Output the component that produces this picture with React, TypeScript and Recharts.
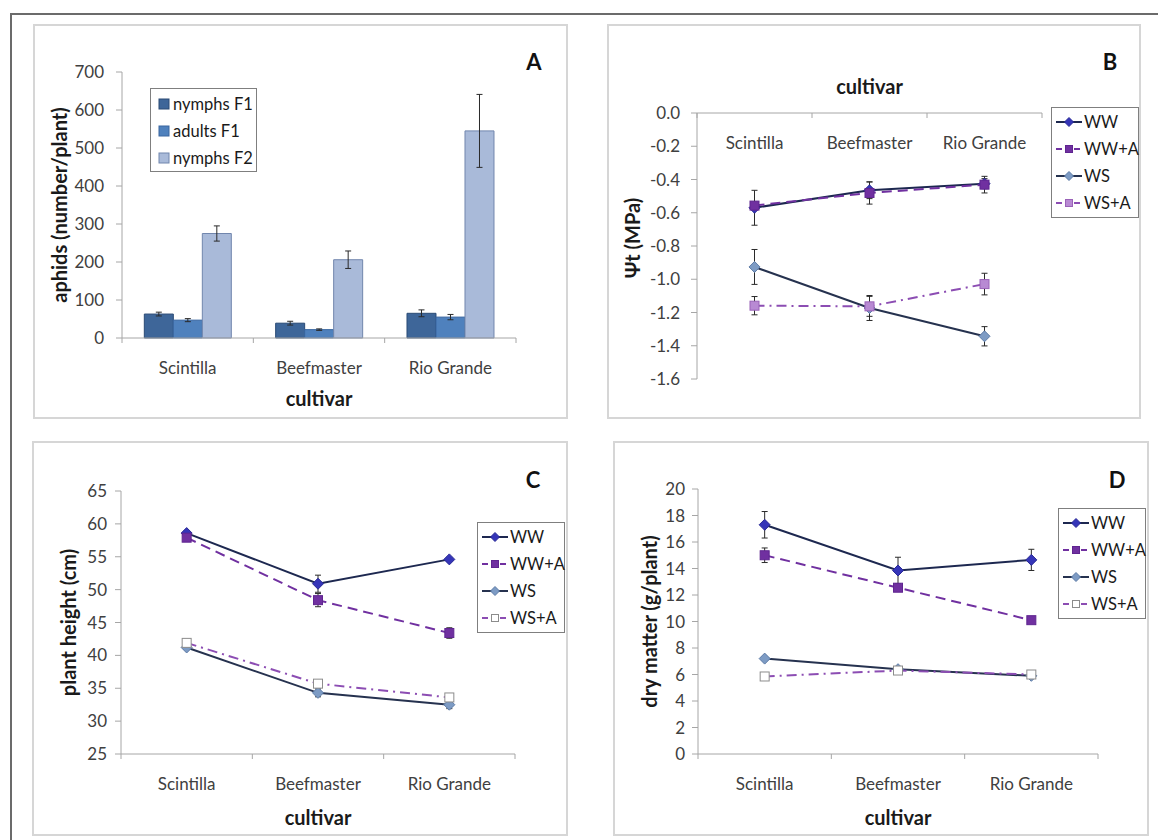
import React from 'react';
import { BarChart, Bar, LineChart, Line, XAxis, YAxis, ErrorBar, Legend } from 'recharts';

const FONT = 'Lato, "Open Sans", "DejaVu Sans", sans-serif';
const AXIS = '#a6a6a6';
const TICK_TXT = '#404040';
const TITLE_TXT = '#1a1a1a';
const TICK_FS = 17;

// ---------- data ----------
const cultivars = ['Scintilla', 'Beefmaster', 'Rio Grande'];

// Panel A: aphids (number/plant)
const nymphsF1 = [63, 39, 65];
const nymphsF1Err = [5, 5, 9];
const adultsF1 = [47, 22, 55];
const adultsF1Err = [4, 2, 7];
const nymphsF2 = [275, 206, 545];
const nymphsF2Err = [20, 23, 96];
const aphidTicks = [0, 100, 200, 300, 400, 500, 600, 700];

// Panel B: Ψt (MPa)
const psiWW = [-0.57, -0.465, -0.425];
const psiWWErr = [0.105, 0.05, 0.03];
const psiWWA = [-0.557, -0.481, -0.431];
const psiWWAErr = [0.02, 0.067, 0.05];
const psiWS = [-0.926, -1.173, -1.343];
const psiWSErr = [0.105, 0.075, 0.058];
const psiWSA = [-1.159, -1.163, -1.029];
const psiWSAErr = [0.055, 0.06, 0.065];
const psiTicks = [0, -0.2, -0.4, -0.6, -0.8, -1.0, -1.2, -1.4, -1.6];

// Panel C: plant height (cm)
const htWW = [58.6, 50.9, 54.6];
const htWWErr = [0.3, 1.3, 0.3];
const htWWA = [57.9, 48.4, 43.4];
const htWWAErr = [0.5, 1.0, 0.8];
const htWS = [41.2, 34.3, 32.5];
const htWSErr = [0.3, 0.6, 0.6];
const htWSA = [41.9, 35.7, 33.6];
const htWSAErr = [0.2, 0.3, 0.3];
const htTicks = [25, 30, 35, 40, 45, 50, 55, 60, 65];

// Panel D: dry matter (g/plant)
const dmWW = [17.3, 13.85, 14.65];
const dmWWErr = [1.0, 1.0, 0.8];
const dmWWA = [15.0, 12.55, 10.1];
const dmWWAErr = [0.55, 0.25, 0.1];
const dmWS = [7.2, 6.4, 5.9];
const dmWSErr = [0.1, 0.15, 0.1];
const dmWSA = [5.85, 6.3, 6.0];
const dmWSAErr = [0.1, 0.1, 0.1];
const dmTicks = [0, 2, 4, 6, 8, 10, 12, 14, 16, 18, 20];

const barData = cultivars.map((c, i) => ({
  cultivar: c,
  nF1: nymphsF1[i], nF1e: nymphsF1Err[i],
  aF1: adultsF1[i], aF1e: adultsF1Err[i],
  nF2: nymphsF2[i], nF2e: nymphsF2Err[i],
}));

const makeLineData = (ww: number[], wwe: number[], wwa: number[], wwae: number[], ws: number[], wse: number[], wsa: number[], wsae: number[]) =>
  cultivars.map((c, i) => ({
    cultivar: c,
    WW: ww[i], WWe: wwe[i],
    WWA: wwa[i], WWAe: wwae[i],
    WS: ws[i], WSe: wse[i],
    WSA: wsa[i], WSAe: wsae[i],
  }));

const psiData = makeLineData(psiWW, psiWWErr, psiWWA, psiWWAErr, psiWS, psiWSErr, psiWSA, psiWSAErr);
const htData = makeLineData(htWW, htWWErr, htWWA, htWWAErr, htWS, htWSErr, htWSA, htWSAErr);
const dmData = makeLineData(dmWW, dmWWErr, dmWWA, dmWWAErr, dmWS, dmWSErr, dmWSA, dmWSAErr);

// ---------- styles ----------
type Mk = { shape: 'diamond' | 'square'; fill: string; stroke: string; size: number };
type SeriesStyle = { key: string; name: string; line: string; dash?: string; marker: Mk };

const barSeries = [
  { key: 'nF1', name: 'nymphs F1', fill: '#3e6699', stroke: '#2a4a75' },
  { key: 'aF1', name: 'adults F1', fill: '#4f81bd', stroke: '#3a66a0' },
  { key: 'nF2', name: 'nymphs F2', fill: '#a9bad9', stroke: '#7186ad' },
];

const makeLineSeries = (wsaFill: string, wsaStroke: string): SeriesStyle[] => [
  { key: 'WW', name: 'WW', line: '#1d2850', marker: { shape: 'diamond', fill: '#3535b8', stroke: '#2a2a96', size: 5.5 } },
  { key: 'WWA', name: 'WW+A', line: '#7030a0', dash: '10 6', marker: { shape: 'square', fill: '#7030a0', stroke: '#5f2590', size: 4.5 } },
  { key: 'WS', name: 'WS', line: '#26324f', marker: { shape: 'diamond', fill: '#7d9bc4', stroke: '#5d7ba6', size: 5.5 } },
  { key: 'WSA', name: 'WS+A', line: '#8c4db3', dash: '10 5 2 5', marker: { shape: 'square', fill: wsaFill, stroke: wsaStroke, size: 4.5 } },
];

const seriesB = makeLineSeries('#b88ad3', '#9a62b8');
const seriesCD = makeLineSeries('#ffffff', '#8c8c8c');

// ---------- helpers ----------
const markerEl = (m: Mk, cx: number, cy: number, key?: string) =>
  m.shape === 'diamond' ? (
    <path key={key} d={`M${cx},${cy - m.size} L${cx + m.size},${cy} L${cx},${cy + m.size} L${cx - m.size},${cy} Z`} fill={m.fill} stroke={m.stroke} strokeWidth={1} />
  ) : (
    <rect key={key} x={cx - m.size} y={cy - m.size} width={m.size * 2} height={m.size * 2} fill={m.fill} stroke={m.stroke} strokeWidth={1} />
  );

const renderMarker = (m: Mk, k: string) => (p: any) => {
  const { cx, cy, index } = p;
  if (cx == null || cy == null) return <g key={`${k}-${index}`} />;
  return markerEl(m, cx, cy, `${k}-${index}`);
};

const makeCategoryTick = (half: number, labelDy: number) => (p: any) => {
  const { x, y, payload, index } = p;
  const last = index === cultivars.length - 1;
  return (
    <g key={`t-${index}`}>
      <line x1={x - half} x2={x - half} y1={y} y2={y + 5} stroke={AXIS} strokeWidth={1} />
      {last && <line x1={x + half} x2={x + half} y1={y} y2={y + 5} stroke={AXIS} strokeWidth={1} />}
      <text x={x} y={y + labelDy} textAnchor="middle" dominantBaseline="central" fill={TICK_TXT} fontSize={TICK_FS} fontFamily={FONT}>
        {payload.value}
      </text>
    </g>
  );
};

const yTitle = (text: string, dx: number, dy = 0) => ({
  content: (p: any) => {
    const vb = p.viewBox || {};
    const cx = vb.x + dx;
    const cy = vb.y + vb.height / 2 + dy;
    return (
      <text x={cx} y={cy} transform={`rotate(-90, ${cx}, ${cy})`} textAnchor="middle" dominantBaseline="central" fontSize={20} fontWeight={700} fill={TITLE_TXT} fontFamily={FONT}>
        {text}
      </text>
    );
  },
});

const xTitle = (text: string, dy: number) => ({
  content: (p: any) => {
    const vb = p.viewBox || {};
    return (
      <text x={vb.x + vb.width / 2} y={vb.y + dy} textAnchor="middle" dominantBaseline="central" fontSize={20} fontWeight={700} fill={TITLE_TXT} fontFamily={FONT}>
        {text}
      </text>
    );
  },
});

const BarLegendBox = () => (
  <div style={{ width: 107, height: 84, border: '1.5px solid #7f7f7f', boxSizing: 'border-box', background: '#fff', paddingTop: 1, fontFamily: FONT }}>
    {barSeries.map((s) => (
      <div key={s.key} style={{ display: 'flex', alignItems: 'center', height: 27.3 }}>
        <svg width={22} height={12} style={{ flex: 'none' }}>
          <rect x={8} y={1} width={10} height={10} fill={s.fill} stroke={s.stroke} strokeWidth={1} />
        </svg>
        <span style={{ fontSize: 16.5, color: TITLE_TXT, whiteSpace: 'nowrap', lineHeight: '16px' }}>{s.name}</span>
      </div>
    ))}
  </div>
);

const LineLegendBox = ({ series }: { series: SeriesStyle[] }) => (
  <div style={{ width: 88, height: 111, border: '1.5px solid #7f7f7f', boxSizing: 'border-box', background: '#fff', fontFamily: FONT }}>
    {series.map((s) => (
      <div key={s.key} style={{ display: 'flex', alignItems: 'center', height: 27 }}>
        <svg width={32} height={14} style={{ flex: 'none' }}>
          <line x1={4} y1={7} x2={30} y2={7} stroke={s.line} strokeWidth={2} strokeDasharray={s.dash ? '6 3' : undefined} />
          {markerEl({ ...s.marker, size: s.marker.size - 1 }, 17, 7)}
        </svg>
        <span style={{ fontSize: 16.5, color: TITLE_TXT, whiteSpace: 'nowrap', lineHeight: '16px' }}>{s.name}</span>
      </div>
    ))}
  </div>
);

const Panel = ({ left, top, width, height, letter, letterX, letterY, children }: any) => (
  <>
    <div style={{ position: 'absolute', left, top, width, height, border: '2px solid #d6d6d6', boxSizing: 'border-box' }} />
    <div style={{ position: 'absolute', left, top, width, height }}>{children}</div>
    <div style={{ position: 'absolute', left: letterX - 15, top: letterY - 14, width: 30, height: 28, lineHeight: '28px', textAlign: 'center', fontSize: 22, fontWeight: 700, fontFamily: FONT, color: '#111' }}>
      {letter}
    </div>
  </>
);

const lineSeriesEls = (series: SeriesStyle[]) =>
  series.map((s) => (
    <Line
      key={s.key}
      dataKey={s.key}
      name={s.name}
      stroke={s.line}
      strokeWidth={2}
      strokeDasharray={s.dash}
      dot={renderMarker(s.marker, s.key)}
      activeDot={false}
      isAnimationActive={false}
    >
      <ErrorBar dataKey={`${s.key}e`} width={3} stroke="#2a2a2a" strokeWidth={1} direction="y" />
    </Line>
  ));

export default function App() {
  // Panel A geometry
  const aW = 535, aH = 395, aM = { top: 48, right: 52, left: 0, bottom: 0 }, aY = 89, aX = 81;
  const aHalf = (aW - aM.right - aY) / 6;
  // Panel B geometry
  const bW = 534, bH = 395, bM = { top: 0, right: 99, left: 0, bottom: 40 }, bY = 90, bX = 89;
  const bHalf = (bW - bM.right - bY) / 6;
  // Panel C geometry
  const cW = 536, cH = 395, cM = { top: 50, right: 53, left: 0, bottom: 0 }, cY = 89, cX = 82;
  const cHalf = (cW - cM.right - cY) / 6;
  // Panel D geometry
  const dW = 536, dH = 395, dM = { top: 48, right: 51, left: 0, bottom: 0 }, dY = 85, dX = 82;
  const dHalf = (dW - dM.right - dY) / 6;

  const yTick = { fill: TICK_TXT, fontSize: TICK_FS, fontFamily: FONT };

  return (
    <div style={{ position: 'absolute', left: 0, top: 0, width: 1158, height: 840, background: '#fff', overflow: 'hidden', fontFamily: FONT }}>
      <div style={{ position: 'absolute', left: 10, top: 13, width: 1160, height: 840, borderTop: '2px solid #6b6b6b', borderLeft: '2px solid #6b6b6b' }} />

      {/* Panel A */}
      <Panel left={33} top={24} width={aW} height={aH} letter="A" letterX={534} letterY={62}>
        <BarChart width={aW} height={aH} data={barData} margin={aM} barCategoryGap="17%" barGap={0}>
          <XAxis dataKey="cultivar" height={aX} interval={0} tickSize={0} tickMargin={0} tickLine={false} axisLine={{ stroke: AXIS }} tick={makeCategoryTick(aHalf, 29)} label={xTitle('cultivar', 60)} />
          <YAxis domain={[0, 700]} ticks={aphidTicks} interval={0} width={aY} tickSize={6} tickMargin={12} axisLine={{ stroke: AXIS }} tickLine={{ stroke: AXIS }} tick={yTick} label={yTitle('aphids (number/plant)', 26)} />
          {barSeries.map((s) => (
            <Bar key={s.key} dataKey={s.key} name={s.name} fill={s.fill} stroke={s.stroke} strokeWidth={1} isAnimationActive={false}>
              <ErrorBar dataKey={`${s.key}e`} width={3} stroke="#2a2a2a" strokeWidth={1} direction="y" />
            </Bar>
          ))}
          <Legend layout="vertical" align="center" verticalAlign="middle" wrapperStyle={{ left: 117, top: 64, width: 107, height: 84 }} content={() => <BarLegendBox />} />
        </BarChart>
      </Panel>

      {/* Panel B */}
      <Panel left={607} top={24} width={bW} height={bH} letter="B" letterX={1110} letterY={62}>
        <LineChart width={bW} height={bH} data={psiData} margin={bM}>
          <XAxis dataKey="cultivar" orientation="top" height={bX} interval={0} padding={{ left: bHalf, right: bHalf }} tickSize={0} tickMargin={0} tickLine={false} axisLine={{ stroke: AXIS }} tick={makeCategoryTick(bHalf, 29)} label={xTitle('cultivar', bX - 27)} />
          <YAxis domain={[-1.6, 0]} ticks={psiTicks} interval={0} width={bY} tickSize={6} tickMargin={11} axisLine={{ stroke: AXIS }} tickLine={{ stroke: AXIS }} tick={yTick} tickFormatter={(v: number) => v.toFixed(1)} label={yTitle('Ψt (MPa)', 25, -8)} />
          {lineSeriesEls(seriesB)}
          <Legend layout="vertical" align="center" verticalAlign="middle" wrapperStyle={{ left: 444, top: 83, width: 88, height: 111 }} content={() => <LineLegendBox series={seriesB} />} />
        </LineChart>
      </Panel>

      {/* Panel C */}
      <Panel left={32} top={441} width={cW} height={cH} letter="C" letterX={533} letterY={480}>
        <LineChart width={cW} height={cH} data={htData} margin={cM}>
          <XAxis dataKey="cultivar" height={cX} interval={0} padding={{ left: cHalf, right: cHalf }} tickSize={0} tickMargin={0} tickLine={false} axisLine={{ stroke: AXIS }} tick={makeCategoryTick(cHalf, 29)} label={xTitle('cultivar', 63)} />
          <YAxis domain={[25, 65]} ticks={htTicks} interval={0} width={cY} tickSize={6} tickMargin={8} axisLine={{ stroke: AXIS }} tickLine={{ stroke: AXIS }} tick={yTick} label={yTitle('plant height (cm)', 36)} />
          {lineSeriesEls(seriesCD)}
          <Legend layout="vertical" align="center" verticalAlign="middle" wrapperStyle={{ left: 445, top: 81, width: 89, height: 111 }} content={() => <LineLegendBox series={seriesCD} />} />
        </LineChart>
      </Panel>

      {/* Panel D */}
      <Panel left={613} top={441} width={dW} height={dH} letter="D" letterX={1117} letterY={480}>
        <LineChart width={dW} height={dH} data={dmData} margin={dM}>
          <XAxis dataKey="cultivar" height={dX} interval={0} padding={{ left: dHalf, right: dHalf }} tickSize={0} tickMargin={0} tickLine={false} axisLine={{ stroke: AXIS }} tick={makeCategoryTick(dHalf, 29)} label={xTitle('cultivar', 63)} />
          <YAxis domain={[0, 20]} ticks={dmTicks} interval={0} width={dY} tickSize={6} tickMargin={7} axisLine={{ stroke: AXIS }} tickLine={{ stroke: AXIS }} tick={yTick} label={yTitle('dry matter (g/plant)', 36)} />
          {lineSeriesEls(seriesCD)}
          <Legend layout="vertical" align="center" verticalAlign="middle" wrapperStyle={{ left: 445, top: 67, width: 88, height: 112 }} content={() => <LineLegendBox series={seriesCD} />} />
        </LineChart>
      </Panel>
    </div>
  );
}
